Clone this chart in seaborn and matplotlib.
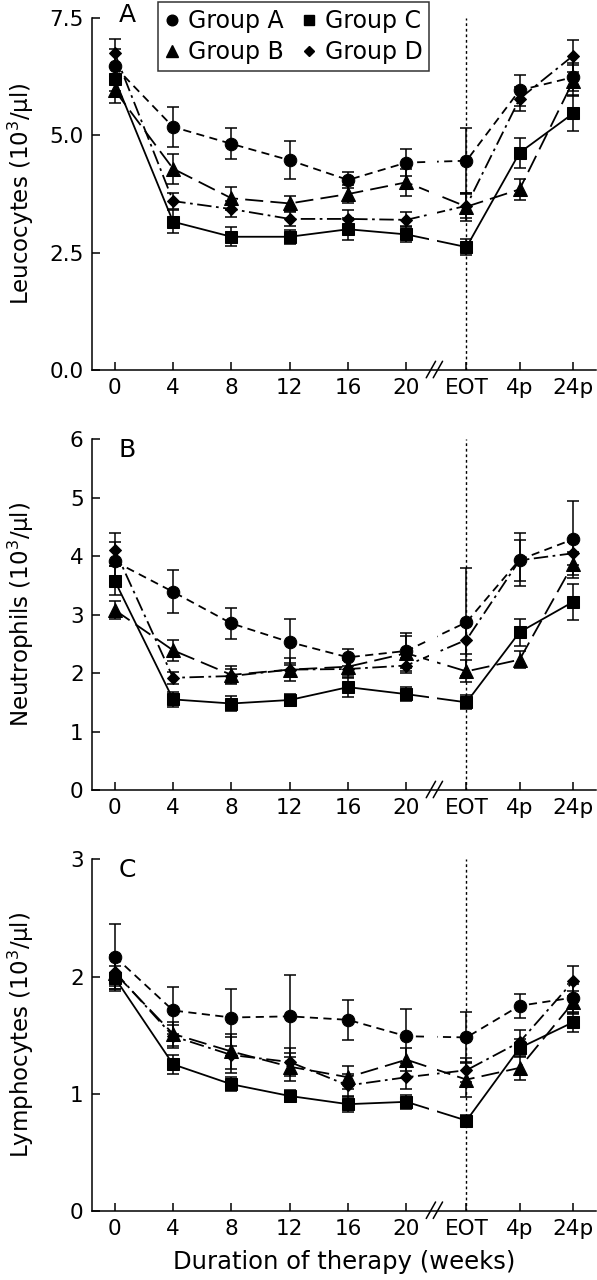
import matplotlib
matplotlib.use('Agg')
import matplotlib.pyplot as plt
import matplotlib.transforms as mtransforms
from matplotlib.lines import Line2D
import seaborn as sns
import pandas as pd

# time points (categories) and where they sit on the broken axis
categories = ['0', '4', '8', '12', '16', '20', 'EOT', '4p', '24p']
x_pos = [0, 1, 2, 3, 4, 5, 6.03, 6.94, 7.86]

groups = ['Group A', 'Group B', 'Group C', 'Group D']

# Leucocytes (10^3/ul), mean and error
leuco_a = [6.47, 5.18, 4.82, 4.47, 4.05, 4.42, 4.46, 5.96, 6.24]
leuco_b = [5.96, 4.29, 3.66, 3.55, 3.75, 4.00, 3.48, 3.85, 6.16]
leuco_c = [6.20, 3.16, 2.84, 2.84, 3.00, 2.89, 2.62, 4.63, 5.47]
leuco_d = [6.75, 3.60, 3.43, 3.22, 3.22, 3.20, 3.50, 5.78, 6.70]
leuco_a_err = [0.38, 0.42, 0.33, 0.40, 0.18, 0.29, 0.69, 0.33, 0.30]
leuco_b_err = [0.28, 0.32, 0.24, 0.16, 0.20, 0.29, 0.30, 0.22, 0.33]
leuco_c_err = [0.25, 0.24, 0.20, 0.15, 0.23, 0.17, 0.17, 0.32, 0.38]
leuco_d_err = [0.30, 0.17, 0.17, 0.15, 0.18, 0.16, 0.25, 0.25, 0.34]

# Neutrophils
neut_a = [3.91, 3.39, 2.85, 2.53, 2.27, 2.38, 2.87, 3.94, 4.29]
neut_b = [3.08, 2.39, 1.97, 2.06, 2.11, 2.34, 2.03, 2.23, 3.87]
neut_c = [3.58, 1.55, 1.48, 1.54, 1.76, 1.64, 1.50, 2.70, 3.22]
neut_d = [4.11, 1.92, 1.95, 2.06, 2.07, 2.13, 2.57, 3.93, 4.05]
neut_a_err = [0.34, 0.37, 0.26, 0.39, 0.15, 0.30, 0.92, 0.45, 0.66]
neut_b_err = [0.15, 0.18, 0.15, 0.20, 0.15, 0.30, 0.19, 0.15, 0.20]
neut_c_err = [0.25, 0.13, 0.13, 0.10, 0.17, 0.12, 0.12, 0.23, 0.31]
neut_d_err = [0.28, 0.10, 0.12, 0.12, 0.15, 0.13, 0.25, 0.35, 0.20]

# Lymphocytes
lymph_a = [2.17, 1.71, 1.65, 1.66, 1.63, 1.49, 1.48, 1.75, 1.82]
lymph_b = [2.03, 1.51, 1.36, 1.23, 1.14, 1.29, 1.12, 1.22, 1.78]
lymph_c = [1.99, 1.25, 1.08, 0.98, 0.91, 0.93, 0.77, 1.39, 1.61]
lymph_d = [2.04, 1.49, 1.33, 1.27, 1.07, 1.14, 1.20, 1.44, 1.96]
lymph_a_err = [0.28, 0.20, 0.24, 0.35, 0.17, 0.23, 0.22, 0.10, 0.12]
lymph_b_err = [0.15, 0.10, 0.15, 0.12, 0.10, 0.10, 0.15, 0.10, 0.10]
lymph_c_err = [0.10, 0.08, 0.06, 0.05, 0.07, 0.06, 0.05, 0.08, 0.08]
lymph_d_err = [0.12, 0.10, 0.15, 0.12, 0.10, 0.10, 0.10, 0.10, 0.13]

panels = [
    ('A', 'Leucocytes (10$^3$/µl)', [leuco_a, leuco_b, leuco_c, leuco_d],
     [leuco_a_err, leuco_b_err, leuco_c_err, leuco_d_err], [0, 2.5, 5.0, 7.5], '%.1f'),
    ('B', 'Neutrophils (10$^3$/µl)', [neut_a, neut_b, neut_c, neut_d],
     [neut_a_err, neut_b_err, neut_c_err, neut_d_err], [0, 1, 2, 3, 4, 5, 6], '%d'),
    ('C', 'Lymphocytes (10$^3$/µl)', [lymph_a, lymph_b, lymph_c, lymph_d],
     [lymph_a_err, lymph_b_err, lymph_c_err, lymph_d_err], [0, 1, 2, 3], '%d'),
]

markers = ['o', '^', 's', 'D']
msizes = [9, 9.5, 8, 6.5]
lstyles = [(0, (4.5, 3)), (0, (10, 4)), '-', (0, (8, 2.5, 1.5, 2.5))]

sns.set_style('ticks')
plt.rcParams['font.family'] = ['DejaVu Sans']
plt.rcParams['mathtext.fontset'] = 'dejavusans'
plt.rcParams['text.color'] = 'black'
plt.rcParams['axes.labelcolor'] = 'black'

fig = plt.figure(figsize=(5.97, 12.8), dpi=100)
boxes = [[0.1541, 0.7109, 0.8442, 0.2750],
         [0.1541, 0.3828, 0.8442, 0.2740],
         [0.1541, 0.0541, 0.8442, 0.2745]]
label_y = [1.008, 0.97, 0.97]

for i, (tag, ylab, series, errs, yticks, fmt) in enumerate(panels):
    ax = fig.add_axes(boxes[i])
    for g, vals, err, m, ms, ls in zip(groups, series, errs, markers, msizes, lstyles):
        df = pd.DataFrame({'x': x_pos, 'y': vals})
        sns.lineplot(data=df, x='x', y='y', ax=ax, color='black', linewidth=1.3,
                     linestyle=ls, marker=m, markersize=ms, markeredgecolor='black',
                     markerfacecolor='black', zorder=2)
        ax.errorbar(x_pos, vals, yerr=err, fmt='none', ecolor='black',
                    elinewidth=1.1, capsize=4.5, capthick=1.1, zorder=2)
    # gap in the lines at the axis break
    ax.axvspan(5.39, 5.53, color='white', zorder=2.4, lw=0)
    ax.axvline(6.03, color='black', linestyle=(0, (2, 2)), linewidth=1, zorder=1)

    ax.set_xlim(-0.39, 8.25)
    ax.set_ylim(yticks[0], yticks[-1])
    ax.set_yticks(yticks)
    ax.set_yticklabels([fmt % t for t in yticks])
    ax.set_xticks(x_pos)
    ax.set_xticklabels(categories)
    ax.tick_params(direction='in', length=6, width=1.1, labelsize=15.5, pad=6, colors='black')
    for s in ['top', 'right']:
        ax.spines[s].set_visible(False)
    for s in ['left', 'bottom']:
        ax.spines[s].set_linewidth(1.1)
        ax.spines[s].set_color('black')
    ax.set_ylabel(ylab, fontsize=16.5, color='black')
    ax.yaxis.set_label_coords(-0.112, 0.5)
    ax.set_xlabel('')
    ax.text(0.07, label_y[i], tag, transform=ax.transAxes, fontsize=18,
            ha='center', va='center', color='black')

    # break marks on the x axis
    trans = mtransforms.blended_transform_factory(ax.transData, ax.transAxes)
    for dx in (-0.06, 0.06):
        ax.plot([5.40 + dx, 5.56 + dx], [-0.022, 0.025], color='black', lw=1.1,
                transform=trans, clip_on=False, zorder=5)

    if i == 0:
        handles = [Line2D([], [], color='black', marker=m, linestyle='none',
                          markersize=ms * 0.85) for m, ms in zip(markers, msizes)]
        leg = ax.legend(handles, groups, ncol=2, loc='upper left',
                        bbox_to_anchor=(0.131, 1.045), borderaxespad=0, fontsize=17,
                        frameon=True, fancybox=False, edgecolor='black',
                        handlelength=0.6, handletextpad=0.35, columnspacing=0.8,
                        labelspacing=0.3, borderpad=0.3)
        leg.get_frame().set_linewidth(1.1)
    if i == 2:
        ax.set_xlabel('Duration of therapy (weeks)', fontsize=17.5, labelpad=8, color='black')

fig.savefig('out.png', dpi=100)
